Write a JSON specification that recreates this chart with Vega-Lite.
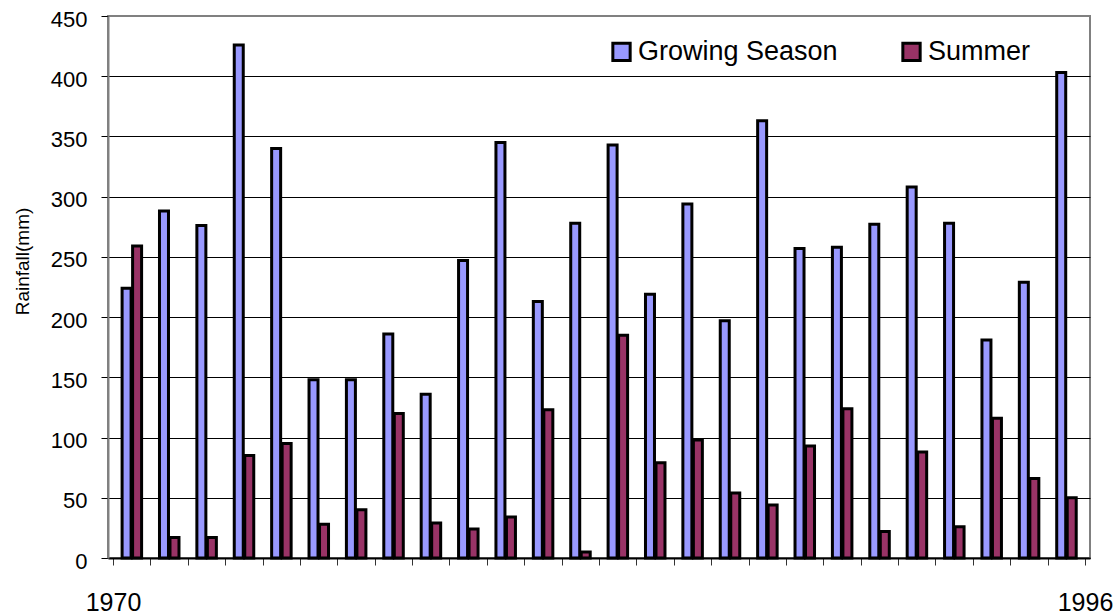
{
  "$schema": "https://vega.github.io/schema/vega-lite/v6.json",
  "width": 982,
  "height": 542,
  "autosize": {"type": "none"},
  "padding": {"left": 108, "top": 16, "right": 27, "bottom": 58},
  "background": "white",
  "config": {
    "view": {"stroke": "#808080", "strokeWidth": 2},
    "font": "Liberation Sans"
  },
  "data": {
    "values": [
      {"year": 1970, "season": "Growing Season", "rain": 224}, {"year": 1970, "season": "Summer", "rain": 259},
      {"year": 1971, "season": "Growing Season", "rain": 288}, {"year": 1971, "season": "Summer", "rain": 17},
      {"year": 1972, "season": "Growing Season", "rain": 276}, {"year": 1972, "season": "Summer", "rain": 17},
      {"year": 1973, "season": "Growing Season", "rain": 426}, {"year": 1973, "season": "Summer", "rain": 85},
      {"year": 1974, "season": "Growing Season", "rain": 340}, {"year": 1974, "season": "Summer", "rain": 95},
      {"year": 1975, "season": "Growing Season", "rain": 148}, {"year": 1975, "season": "Summer", "rain": 28},
      {"year": 1976, "season": "Growing Season", "rain": 148}, {"year": 1976, "season": "Summer", "rain": 40},
      {"year": 1977, "season": "Growing Season", "rain": 186}, {"year": 1977, "season": "Summer", "rain": 120},
      {"year": 1978, "season": "Growing Season", "rain": 136}, {"year": 1978, "season": "Summer", "rain": 29},
      {"year": 1979, "season": "Growing Season", "rain": 247}, {"year": 1979, "season": "Summer", "rain": 24},
      {"year": 1980, "season": "Growing Season", "rain": 345}, {"year": 1980, "season": "Summer", "rain": 34},
      {"year": 1981, "season": "Growing Season", "rain": 213}, {"year": 1981, "season": "Summer", "rain": 123},
      {"year": 1982, "season": "Growing Season", "rain": 278}, {"year": 1982, "season": "Summer", "rain": 5},
      {"year": 1983, "season": "Growing Season", "rain": 343}, {"year": 1983, "season": "Summer", "rain": 185},
      {"year": 1984, "season": "Growing Season", "rain": 219}, {"year": 1984, "season": "Summer", "rain": 79},
      {"year": 1985, "season": "Growing Season", "rain": 294}, {"year": 1985, "season": "Summer", "rain": 98},
      {"year": 1986, "season": "Growing Season", "rain": 197}, {"year": 1986, "season": "Summer", "rain": 54},
      {"year": 1987, "season": "Growing Season", "rain": 363}, {"year": 1987, "season": "Summer", "rain": 44},
      {"year": 1988, "season": "Growing Season", "rain": 257}, {"year": 1988, "season": "Summer", "rain": 93},
      {"year": 1989, "season": "Growing Season", "rain": 258}, {"year": 1989, "season": "Summer", "rain": 124},
      {"year": 1990, "season": "Growing Season", "rain": 277}, {"year": 1990, "season": "Summer", "rain": 22},
      {"year": 1991, "season": "Growing Season", "rain": 308}, {"year": 1991, "season": "Summer", "rain": 88},
      {"year": 1992, "season": "Growing Season", "rain": 278}, {"year": 1992, "season": "Summer", "rain": 26},
      {"year": 1993, "season": "Growing Season", "rain": 181}, {"year": 1993, "season": "Summer", "rain": 116},
      {"year": 1994, "season": "Growing Season", "rain": 229}, {"year": 1994, "season": "Summer", "rain": 66},
      {"year": 1995, "season": "Growing Season", "rain": 403}, {"year": 1995, "season": "Summer", "rain": 50}
    ]
  },
  "encoding": {
    "x": {
      "field": "year",
      "type": "quantitative",
      "scale": {"domain": [1970, 1996], "nice": false, "zero": false},
      "axis": {
        "title": null,
        "values": [1970, 1971, 1972, 1973, 1974, 1975, 1976, 1977, 1978, 1979, 1980, 1981, 1982, 1983, 1984, 1985, 1986, 1987, 1988, 1989, 1990, 1991, 1992, 1993, 1994, 1995, 1996],
        "format": "d",
        "labelExpr": "datum.value == 1970 || datum.value == 1996 ? datum.label : ''",
        "grid": false,
        "domainColor": "black",
        "domainWidth": 2,
        "tickColor": "#333333",
        "tickSize": 7,
        "tickWidth": 1,
        "labelFontSize": 25,
        "labelColor": "black",
        "labelBaseline": "alphabetic",
        "labelPadding": 45,
        "labelOverlap": false,
        "labelFlush": false,
        "encode": {"labels": {"update": {"dx": {"signal": "datum.value == 1970 ? 5 : -15"}}}}
      }
    },
    "y": {
      "field": "rain",
      "type": "quantitative",
      "stack": null,
      "scale": {"domain": [0, 450], "nice": false},
      "axis": {
        "title": "Rainfall(mm)",
        "values": [0, 50, 100, 150, 200, 250, 300, 350, 400, 450],
        "grid": true,
        "gridColor": {"condition": {"test": "datum.value == 450", "value": "#808080"}, "value": "black"},
        "gridWidth": 1,
        "domainColor": "#808080",
        "domainWidth": 2,
        "tickColor": "black",
        "tickSize": 7,
        "labelFontSize": 22,
        "labelColor": "black",
        "labelPadding": 14,
        "labelOffset": 3,
        "titleFontSize": 19,
        "titleFontWeight": "normal",
        "titleColor": "black",
        "titleAngle": -90,
        "titleX": -86,
        "titleY": 245,
        "titleAlign": "center",
        "titleBaseline": "middle"
      }
    },
    "color": {
      "field": "season",
      "type": "nominal",
      "scale": {"domain": ["Growing Season", "Summer"], "range": ["#9999FF", "#993366"]},
      "legend": {
        "orient": "none",
        "legendX": 500,
        "legendY": 22,
        "direction": "horizontal",
        "title": null,
        "symbolType": "square",
        "symbolSize": 300,
        "symbolStrokeColor": "black",
        "symbolStrokeWidth": 3,
        "symbolOpacity": 1,
        "labelFontSize": 27,
        "labelColor": "black",
        "labelOffset": 3,
        "columnPadding": 58,
        "labelLimit": 400
      }
    }
  },
  "layer": [
    {
      "transform": [{"filter": "datum.season == 'Growing Season'"}],
      "mark": {"type": "bar", "orient": "vertical", "width": 9, "xOffset": 13.6, "stroke": "black", "strokeWidth": 3, "opacity": 1}
    },
    {
      "transform": [{"filter": "datum.season == 'Summer'"}],
      "mark": {"type": "bar", "orient": "vertical", "width": 9, "xOffset": 24.1, "stroke": "black", "strokeWidth": 3, "opacity": 1}
    }
  ]
}
